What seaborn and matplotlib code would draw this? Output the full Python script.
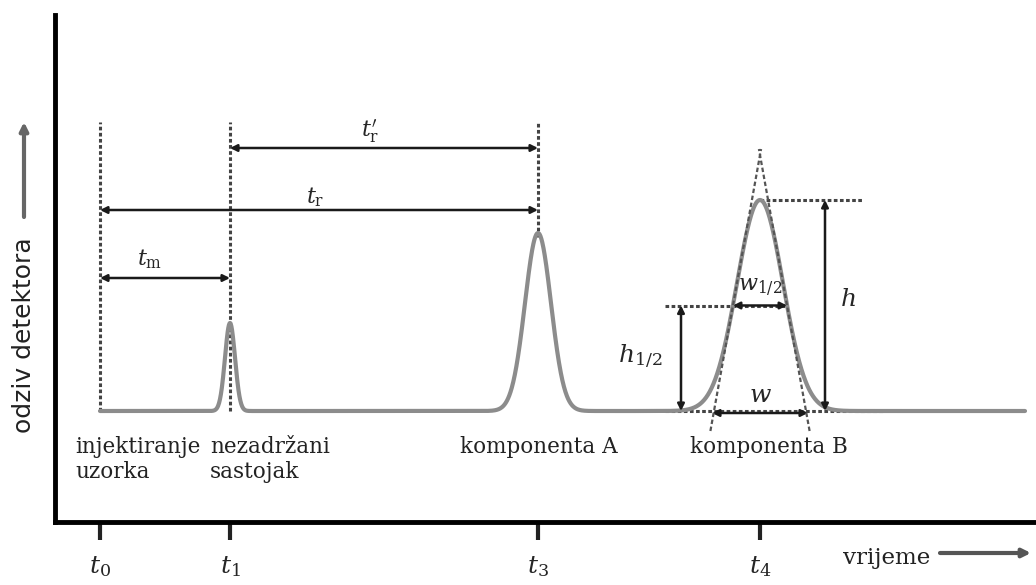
import numpy as np
import pandas as pd
import seaborn as sns
from matplotlib import pyplot as plt

# retention times (x units) and peak shapes
tick_times = [100, 230, 538, 760]
tick_labels = ["$t_0$", "$t_1$", "$t_3$", "$t_4$"]
peak_times = [230, 538, 760]
peak_heights = [88, 178, 211]
peak_sigmas = [5, 13, 23]
run_start, run_end = 100, 1025

component_labels = ["injektiranje\nuzorka", "nezadržani\nsastojak", "komponenta A", "komponenta B"]
label_x = [75, 210, 460, 690]

sns.set_style("ticks")
plt.rcParams["font.family"] = ["DejaVu Serif"]
plt.rcParams["mathtext.fontset"] = "dejavuserif"

vrijeme = np.linspace(run_start, run_end, 3000)
odziv = np.zeros_like(vrijeme)
for t, h, s in zip(peak_times, peak_heights, peak_sigmas):
    odziv += h * np.exp(-0.5 * ((vrijeme - t) / s) ** 2)
signal = pd.DataFrame({"vrijeme": vrijeme, "odziv": odziv})

fig = plt.figure(figsize=(10.36, 5.85), dpi=100)
ax = fig.add_axes([55 / 1036, 63 / 585, 981 / 1036, 507 / 585])
ax.set_xlim(55, 1036)
ax.set_ylim(-111, 396)

sns.lineplot(data=signal, x="vrijeme", y="odziv", ax=ax, color="#8c8c8c", linewidth=3, zorder=3)

sns.despine(ax=ax)
for side in ["left", "bottom"]:
    ax.spines[side].set_linewidth(3.5)
    ax.spines[side].set_color("black")
ax.set_yticks([])
ax.set_xticks(tick_times)
ax.set_xticklabels(tick_labels, fontsize=18)
ax.tick_params(axis="x", length=13, width=3, color="#222222", pad=10)
ax.set_xlabel("")
ax.set_ylabel("")

dot = dict(color="#444444", linewidth=2.2, linestyle=(0, (1.2, 0.8)), zorder=2)
arrow_kw = dict(arrowstyle="<|-|>", color="#1a1a1a", lw=1.8, mutation_scale=10, shrinkA=0, shrinkB=0)

t0, t1, t3, t4 = tick_times
hA, hB = peak_heights[1], peak_heights[2]
sB = peak_sigmas[2]
top = 289

ax.plot([t0, t0], [0, top], **dot)
ax.plot([t1, t1], [0, top], **dot)
ax.plot([t3, t3], [hA - 4, top], **dot)

# t_m, t_r, t_r'
ax.annotate("", xy=(t1, 133), xytext=(t0, 133), arrowprops=arrow_kw)
ax.text((t0 + t1) / 2 - 15, 146, r"$t_\mathrm{m}$", fontsize=16, ha="center")
ax.annotate("", xy=(t3, 201), xytext=(t0, 201), arrowprops=arrow_kw)
ax.text(315, 208, r"$t_\mathrm{r}$", fontsize=16, ha="center")
ax.annotate("", xy=(t3, 263), xytext=(t1, 263), arrowprops=arrow_kw)
ax.text(370, 274, r"$t_\mathrm{r}'$", fontsize=16, ha="center")

# peak B construction
half = hB / 2
fwhm2 = sB * np.sqrt(2 * np.log(2))
ax.plot([t4 - 95, t4 + 125], [0, 0], **dot)
ax.plot([t4, t4 + 102], [hB, hB], **dot)
ax.plot([t4 - 95, t4 + 25], [half, half], **dot)
infl = hB * np.exp(-0.5)
slope = infl / sB
for sign in [-1, 1]:
    yy = np.array([-20, 2 * infl + 6])
    xx = t4 + sign * (2 * sB - yy / slope)
    ax.plot(xx, yy, color="#555555", linewidth=1.6, linestyle=(0, (2, 1.2)), zorder=4)

ax.annotate("", xy=(t4 + 65, hB), xytext=(t4 + 65, 0), arrowprops=arrow_kw)
ax.text(t4 + 88, 111, "$h$", fontsize=18, ha="center", va="center")
ax.annotate("", xy=(t4 - 79, half), xytext=(t4 - 79, 0), arrowprops=arrow_kw)
ax.text(t4 - 120, 54, "$h_{1/2}$", fontsize=18, ha="center", va="center")
ax.annotate("", xy=(t4 + fwhm2, half), xytext=(t4 - fwhm2, half), arrowprops=arrow_kw)
ax.text(t4, 124, "$w_{1/2}$", fontsize=16, ha="center", va="center")
ax.annotate("", xy=(t4 + 2 * sB + 2, -2), xytext=(t4 - 2 * sB - 2, -2), arrowprops=arrow_kw)
ax.text(t4, 15, "$w$", fontsize=18, ha="center", va="center")

for txt, x in zip(component_labels, label_x):
    ax.text(x, -25, txt, fontsize=15.5, ha="left", va="top", linespacing=1.15, color="#222222")

# axis captions with arrows
ax.text(843, -147, "vrijeme", fontsize=16.5, ha="left", va="center", color="#222222", clip_on=False)
ax.annotate("", xy=(1031, -142), xytext=(940, -142), arrowprops=dict(
    arrowstyle="-|>", color="#555555", lw=3, mutation_scale=12, shrinkA=0, shrinkB=0), annotation_clip=False)
ax.text(24, 76, "odziv detektora", fontsize=18, rotation=90, ha="center", va="center",
        family=["DejaVu Sans"], color="#222222", clip_on=False)
ax.annotate("", xy=(24, 289), xytext=(24, 194), arrowprops=dict(
    arrowstyle="-|>", color="#666666", lw=3, mutation_scale=12, shrinkA=0, shrinkB=0), annotation_clip=False)

fig.savefig("out.png", dpi=100)
